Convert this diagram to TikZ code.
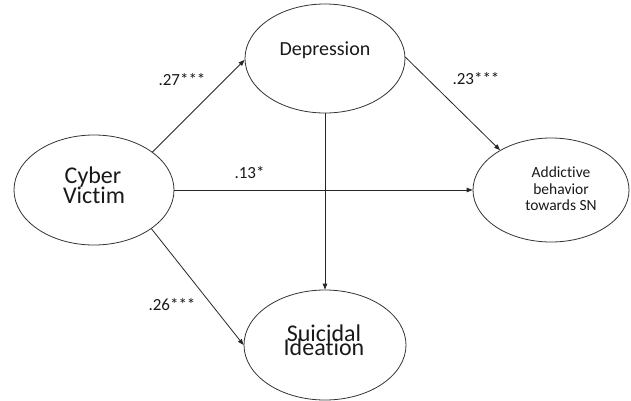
\documentclass[tikz,border=0pt]{standalone}
\usepackage{fontspec}
\setmainfont{Carlito}[RawFeature={-liga;-dlig;-clig}]
\usetikzlibrary{arrows.meta,shapes.geometric}
\tikzset{
  oval/.style={ellipse, draw=black!80, line width=0.8pt, inner sep=0pt},
  txt/.style={anchor=base, inner sep=0pt, text=black!90},
  big/.style={txt, font=\fontsize{24}{24}\selectfont},
  mid/.style={txt, font=\fontsize{20}{20}\selectfont},
  small/.style={txt, font=\fontsize{15.5}{15.5}\selectfont},
  coef/.style={txt, font=\fontsize{17}{17}\selectfont},
  path/.style={draw=black!85, line width=0.8pt, -{Triangle[length=6pt,width=4.5pt]}}
}
\begin{document}
\begin{tikzpicture}[x=1pt,y=-1pt]
\useasboundingbox (0,0) rectangle (631,400);
% ellipses
\node[oval, minimum width=160pt, minimum height=110pt] (cv) at (94,190) {};
\node[oval, minimum width=160pt, minimum height=109pt] (dep) at (325,58.5) {};
\node[oval, minimum width=156pt, minimum height=104pt] (add) at (551,190) {};
\node[oval, minimum width=162pt, minimum height=110pt] (sui) at (325,345) {};
% texts
\node[big] (cvA) at (93,183) {Cyber};
\node[big] (cvB) at (94,203) {Victim};
\node[mid] (depT) at (325,55) {Depression};
\node[small] (addA) at (561,177) {Addictive};
\node[small] (addB) at (561,194) {behavior};
\node[small] (addC) at (561,210) {towards SN};
\node[big] (suiA) at (324,341) {Suicidal};
\node[big] (suiB) at (324,355) {Ideation};
% connectors
\draw[path] (cv.33.5) -- (dep.181);
\draw[path] (dep.1) -- (add.142.5);
\draw[path] (cv.east) -- (add.west);
\draw[path] (dep.south) -- (sui.north);
\draw[path] (cv.-34.4) -- (sui.west);
% coefficients
\node[coef] (l27) at (182,85) {.27***};
\node[coef] (l23) at (476,84) {.23***};
\node[coef] (l13) at (249.5,178) {.13*};
\node[coef] (l26) at (172,310.5) {.26***};
\end{tikzpicture}
\end{document}
